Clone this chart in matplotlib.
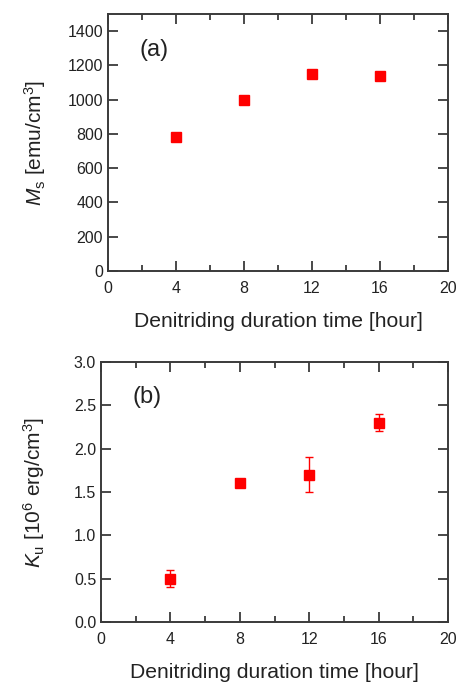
import matplotlib
matplotlib.use("Agg")
import matplotlib.pyplot as plt
from matplotlib.ticker import MultipleLocator, FormatStrFormatter

# Data
hours = [4, 8, 12, 16]
ms_values = [780, 1000, 1150, 1140]
ku_values = [0.5, 1.6, 1.7, 2.3]
ku_errors = [0.1, 0.0, 0.2, 0.1]

plt.rcParams["font.family"] = ["Liberation Sans", "DejaVu Sans"]
plt.rcParams["mathtext.fontset"] = "custom"
plt.rcParams["mathtext.rm"] = "Liberation Sans"
plt.rcParams["mathtext.it"] = "Liberation Sans:italic"

fig = plt.figure(figsize=(4.63, 6.82), dpi=100)
W, H = 463, 682
ax_a = fig.add_axes([108 / W, 1 - 271 / H, 340 / W, 257 / H])
ax_b = fig.add_axes([101 / W, 1 - 622 / H, 347 / W, 260 / H])

red = "#ff0000"
grey = "#3a3a3a"
txt = "#222222"


def style(ax):
    ax.set_xlim(0, 20)
    ax.xaxis.set_major_locator(MultipleLocator(4))
    ax.xaxis.set_minor_locator(MultipleLocator(2))
    ax.tick_params(which="both", direction="in", top=True, right=True,
                   colors=grey, labelcolor=txt, labelsize=11.5)
    ax.tick_params(which="major", length=7, width=1.3)
    ax.tick_params(which="minor", length=4, width=1.3)
    ax.tick_params(axis="x", which="major", pad=7)
    for s in ax.spines.values():
        s.set_color(grey)
        s.set_linewidth(1.4)
    ax.set_xlabel("Denitriding duration time [hour]", fontsize=15.2,
                  color=txt, labelpad=12)


# panel (a)
ax_a.plot(hours, ms_values, "s", color=red, markersize=6.5)
ax_a.set_ylim(0, 1500)
ax_a.yaxis.set_major_locator(MultipleLocator(200))
style(ax_a)
ax_a.set_ylabel(r"$M_\mathrm{s}$ [emu/cm$^3$]", fontsize=15, color=txt)
ax_a.yaxis.set_label_coords(-0.176, 0.5)
ax_a.text(0.094, 0.86, "(a)", transform=ax_a.transAxes, fontsize=17,
          color=txt, va="center")

# panel (b)
ax_b.errorbar(hours, ku_values, yerr=ku_errors, fmt="s", color=red,
              markersize=6.5, capsize=3, elinewidth=1, capthick=1)
ax_b.set_ylim(0, 3.0)
ax_b.yaxis.set_major_locator(MultipleLocator(0.5))
ax_b.yaxis.set_major_formatter(FormatStrFormatter("%.1f"))
style(ax_b)
ax_b.set_ylabel(r"$K_\mathrm{u}$ [10$^6$ erg/cm$^3$]", fontsize=15, color=txt)
ax_b.yaxis.set_label_coords(-0.156, 0.5)
ax_b.text(0.092, 0.865, "(b)", transform=ax_b.transAxes, fontsize=17,
          color=txt, va="center")

fig.savefig("out.png", dpi=100)
